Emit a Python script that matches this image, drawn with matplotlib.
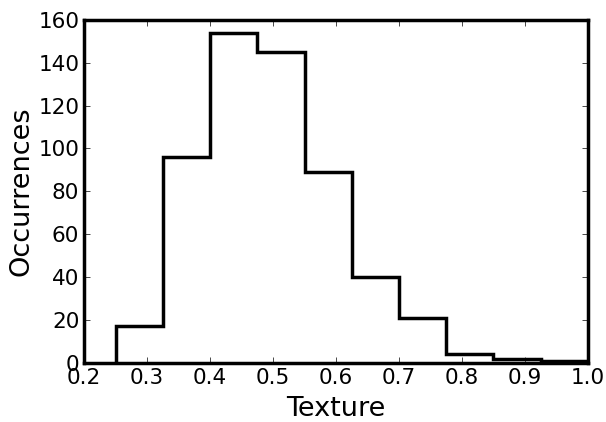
import matplotlib
matplotlib.use("Agg")
import matplotlib.pyplot as plt

# histogram bin edges and counts
edges = [0.25, 0.325, 0.40, 0.475, 0.55, 0.625, 0.70, 0.775, 0.85, 0.925, 1.0]
counts = [17, 96, 154, 145, 89, 40, 21, 4, 2, 1]
xticks = [0.2, 0.3, 0.4, 0.5, 0.6, 0.7, 0.8, 0.9, 1.0]
yticks = [0, 20, 40, 60, 80, 100, 120, 140, 160]

fig = plt.figure(figsize=(6.06, 4.22), dpi=100)
ax = fig.add_axes([0.139, 0.140, 0.831, 0.813])

ax.stairs(counts, edges, color='black', linewidth=2.5, baseline=0)

ax.set_xlim(0.2, 1.0)
ax.set_ylim(0, 160)
ax.set_xticks(xticks)
ax.set_yticks(yticks)
ax.set_xlabel("Texture", fontsize=19.5, labelpad=6)
ax.set_ylabel("Occurrences", fontsize=19.5, labelpad=3)
ax.tick_params(direction='in', top=True, right=True, labelsize=15.5, length=4, width=0.5)
for s in ax.spines.values():
    s.set_linewidth(2.5)

fig.savefig("out.png", dpi=100)
